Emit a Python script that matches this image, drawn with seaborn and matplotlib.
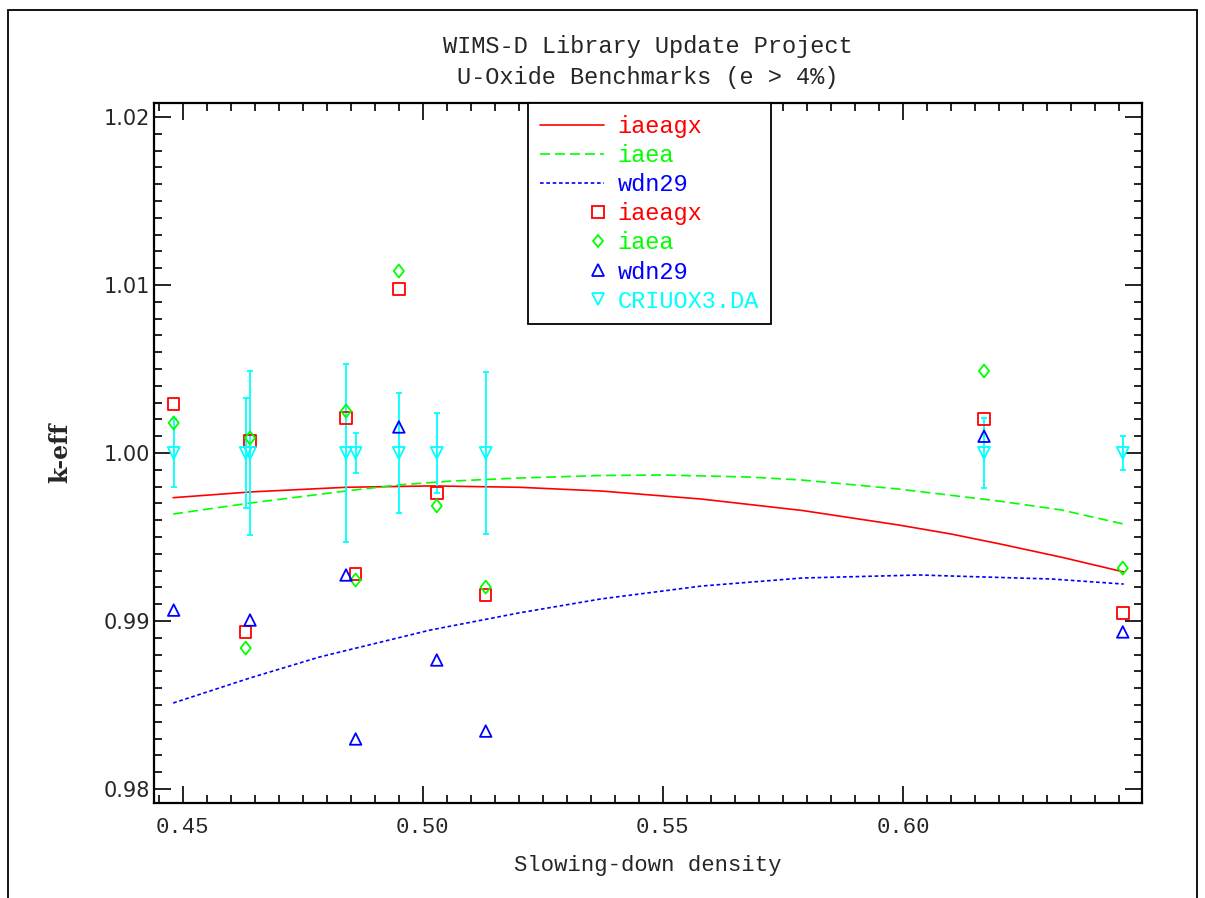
import numpy as np
import pandas as pd
import matplotlib
matplotlib.use("Agg")
import matplotlib.pyplot as plt
import seaborn as sns
from matplotlib.lines import Line2D
from matplotlib.markers import MarkerStyle
from matplotlib.transforms import Affine2D
from matplotlib.legend_handler import HandlerLine2DCompound
from matplotlib.ticker import MultipleLocator

# --- data ---
# benchmark x (slowing-down density)
bench_x = [0.4481, 0.4631, 0.4640, 0.4840, 0.4860, 0.4950, 0.5029, 0.5131, 0.6169, 0.6458]
iaeagx_pts = [1.00292, 0.98935, 1.00070, 1.00208, 0.99280, 1.00976, 0.99762, 0.99155, 1.00202, 0.99048]
iaea_pts = [1.00179, 0.98839, 1.00090, 1.00250, 0.99244, 1.01083, 0.99685, 0.99202, 1.00488, 0.99315]
wdn29_x = [0.4481, 0.4640, 0.4840, 0.4860, 0.4950, 0.5029, 0.5131, 0.6169, 0.6458]
wdn29_pts = [0.99065, 0.99006, 0.99274, 0.98298, 1.00155, 0.98768, 0.98345, 1.00100, 0.98935]
exp_keff = [1.0] * 10
exp_err = [0.0020, 0.0033, 0.0049, 0.0053, 0.0012, 0.0036, 0.0024, 0.0048, 0.0021, 0.0010]

# fitted trend curves
red_x = [0.448, 0.464, 0.484, 0.502, 0.520, 0.537, 0.558, 0.579, 0.599, 0.610, 0.620, 0.633, 0.646]
red_y = [0.99734, 0.99768, 0.99796, 0.99804, 0.99796, 0.99774, 0.99726, 0.99658, 0.99572, 0.99518,
         0.99460, 0.99380, 0.99292]
green_x = [0.448, 0.464, 0.484, 0.495, 0.506, 0.520, 0.537, 0.550, 0.568, 0.579, 0.599, 0.620, 0.633, 0.646]
green_y = [0.99637, 0.99702, 0.99774, 0.99810, 0.99833, 0.99851, 0.99866, 0.99869, 0.99857, 0.99839,
           0.99786, 0.99714, 0.99661, 0.99577]
blue_x = [0.448, 0.464, 0.4785, 0.5015, 0.520, 0.537, 0.558, 0.579, 0.6035, 0.610, 0.631, 0.646]
blue_y = [0.98512, 0.98661, 0.98786, 0.98946, 0.99048, 0.99131, 0.99208, 0.99256, 0.99274, 0.99268,
          0.99250, 0.99220]

series_names = ["iaeagx", "iaea", "wdn29", "iaeagx", "iaea", "wdn29", "CRIUOX3.DA"]
series_colors = ["#ff0000", "#00ff00", "#0000ff", "#ff0000", "#00ff00", "#0000ff", "#00ffff"]

sns.set_style("ticks")
plt.rcParams["font.family"] = ["Liberation Mono", "DejaVu Sans"]
plt.rcParams["xtick.direction"] = "in"
plt.rcParams["ytick.direction"] = "in"

fig = plt.figure(figsize=(12.05, 8.98), dpi=100)
ax = fig.add_axes([0.1278, 0.1058, 0.8199, 0.7795])

# curves
sns.lineplot(x=red_x, y=red_y, ax=ax, color="#ff0000", lw=1.2, sort=False, estimator=None)
sns.lineplot(x=green_x, y=green_y, ax=ax, color="#00ff00", lw=1.2, sort=False, estimator=None,
             linestyle=(0, (6, 3)))
sns.lineplot(x=blue_x, y=blue_y, ax=ax, color="#0000ff", lw=1.2, sort=False, estimator=None,
             linestyle=(0, (2.2, 1.6)))

# experimental values with error bars
ax.errorbar(bench_x, exp_keff, yerr=exp_err, fmt="none", ecolor="#00ffff",
            elinewidth=1.3, capsize=2.5, capthick=1.3, zorder=3)

thin_diamond = MarkerStyle("D", transform=Affine2D().scale(0.78, 1.0))
sns.scatterplot(x=bench_x, y=iaeagx_pts, ax=ax, marker="s", s=69, color="#ff0000",
                facecolor="none", edgecolor="#ff0000", linewidth=1.3, zorder=4)
sns.scatterplot(x=bench_x, y=iaea_pts, ax=ax, marker=thin_diamond, s=44, color="#00ff00",
                facecolor="none", edgecolor="#00ff00", linewidth=1.3, zorder=4)
sns.scatterplot(x=wdn29_x, y=wdn29_pts, ax=ax, marker="^", s=69, color="#0000ff",
                facecolor="none", edgecolor="#0000ff", linewidth=1.3, zorder=4)
sns.scatterplot(x=bench_x, y=exp_keff, ax=ax, marker="v", s=74, color="#00ffff",
                facecolor="none", edgecolor="#00ffff", linewidth=1.3, zorder=4)

ax.set_xlim(0.4440, 0.6498)
ax.set_ylim(0.97917, 1.02083)
ax.xaxis.set_major_locator(MultipleLocator(0.05))
ax.xaxis.set_minor_locator(MultipleLocator(0.005))
ax.yaxis.set_major_locator(MultipleLocator(0.01))
ax.yaxis.set_minor_locator(MultipleLocator(0.001))
ax.xaxis.set_major_formatter(plt.FuncFormatter(lambda v, p: f"{v:.2f}"))
ax.yaxis.set_major_formatter(plt.FuncFormatter(lambda v, p: f"{v:.2f}"))
ax.tick_params(which="both", top=True, right=True, color="black", width=1.2)
ax.tick_params(which="major", length=12)
ax.tick_params(which="minor", length=6)
ax.tick_params(axis="x", which="major", pad=10, labelsize=16)
ax.tick_params(axis="y", which="major", pad=3, labelsize=15)
for lab in ax.get_yticklabels():
    lab.set_family(["DejaVu Sans"])
for sp in ax.spines.values():
    sp.set_linewidth(1.6)
    sp.set_color("black")
ax.grid(False)

ax.set_xlabel("Slowing-down density", fontsize=16, labelpad=12)
ax.set_ylabel("k-eff", fontsize=17, fontweight="bold", labelpad=22,
              family=["DejaVu Serif"])
ax.set_title("WIMS-D Library Update Project\nU-Oxide Benchmarks (e > 4%)",
             fontsize=17, pad=14, linespacing=1.4)


# symbol-only legend entries: put the marker at the right end of the handle
class MarkerRight(HandlerLine2DCompound):
    def get_xdata(self, legend, xdescent, ydescent, width, height, fontsize):
        xdata = np.array([-xdescent, -xdescent + width])
        return xdata, np.array([-xdescent + 0.92 * width])


handles = [
    Line2D([], [], color="#ff0000", lw=1.2),
    Line2D([], [], color="#00ff00", lw=1.2, linestyle=(0, (6, 3))),
    Line2D([], [], color="#0000ff", lw=1.2, linestyle=(0, (2.2, 1.6))),
    Line2D([], [], ls="none", marker="s", ms=8.3, mfc="none", mec="#ff0000", mew=1.3),
    Line2D([], [], ls="none", marker=thin_diamond, ms=6.6, mfc="none", mec="#00ff00", mew=1.3),
    Line2D([], [], ls="none", marker="^", ms=8.3, mfc="none", mec="#0000ff", mew=1.3),
    Line2D([], [], ls="none", marker="v", ms=8.6, mfc="none", mec="#00ffff", mew=1.3),
]
hmap = {h: MarkerRight(numpoints=1) for h in handles[3:]}
leg = ax.legend(handles, series_names, handler_map=hmap, loc="upper left",
                bbox_to_anchor=(0.3785, 1.0), borderaxespad=0, fontsize=17,
                handlelength=2.7, handletextpad=0.6, labelspacing=0.26,
                borderpad=0.5, fancybox=False, framealpha=1, edgecolor="black")
leg.get_frame().set_linewidth(1.3)
for txt, col in zip(leg.get_texts(), series_colors):
    txt.set_color(col)

# outer frame of the page
fig.add_artist(plt.Rectangle((0.0066, -0.05), 0.9868, 1.0389, transform=fig.transFigure,
                             fill=False, edgecolor="black", lw=1.3))

fig.savefig("out.png", dpi=100, facecolor="white")
